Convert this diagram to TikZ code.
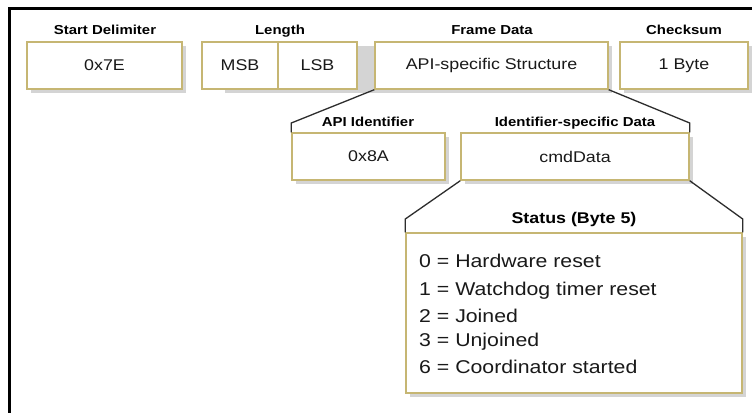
\documentclass[tikz,border=0pt]{standalone}
\usepackage{fontspec}
\setmainfont[FakeStretch=1.15]{Liberation Sans}
\definecolor{boxline}{RGB}{198,182,115}
\definecolor{shadowgray}{RGB}{212,212,212}
\definecolor{linkline}{RGB}{45,45,45}
\begin{document}
\begin{tikzpicture}[x=1pt,y=-1pt,
  fieldbox/.style={draw=boxline,line width=1.4pt,fill=white,
    minimum height=47pt,inner sep=0pt,font=\fontsize{15.5}{18}\selectfont,text=black!90},
  boxshadow/.style={fill=shadowgray},
  fieldhead/.style={anchor=base,inner sep=0pt,font=\bfseries\fontsize{13}{15}\selectfont},
  statusline/.style={anchor=base west,inner sep=0pt,font=\fontsize{18.5}{22}\selectfont,text=black!90},
  link/.style={draw=linkline,line width=1.3pt}]
\useasboundingbox (0,0) rectangle (752,413);
\fill[white] (0,0) rectangle (752,413);
% outer frame (clipped at right and bottom)
\coordinate (ftl) at (9.5,8.5);
\coordinate (ftr) at (752,8.5);
\coordinate (fbl) at (9.5,413);
\draw[line width=2.4pt] (ftr) -- (ftl) -- (fbl);

% shadows
\foreach \x/\y/\w/\h in {104.5/65.5/155/47, 298.75/65.5/155.5/47, 491.5/65.5/233/47, 684/65.5/128/47,
                          368.5/156.5/153/47, 575/156.5/228/47, 574/313/336/160}
  \fill[boxshadow] (\x-\w/2+3.5,\y-\h/2+3.5) rectangle (\x+\w/2+3.5,\y+\h/2+3.5);

% row 1
\node[fieldbox,minimum width=155pt] (sd) at (104.5,65.5) {0x7E};
\node[fieldbox,minimum width=76pt] (msb) at (240,65.5) {MSB};
\node[fieldbox,minimum width=79pt] (lsb) at (317.5,65.5) {LSB};
\node[fieldbox,minimum width=233pt] (fd) at (491.5,65.5) {API-specific Structure};
\node[fieldbox,minimum width=128pt] (cs) at (684,65.5) {1 Byte};
\node[fieldhead] (hsd) at (105,34) {Start Delimiter};
\node[fieldhead] (hlen) at (280,34) {Length};
\node[fieldhead] (hfd) at (492,34) {Frame Data};
\node[fieldhead] (hcs) at (684,34) {Checksum};

% row 2
\node[fieldbox,minimum width=153pt] (api) at (368.5,156.5) {0x8A};
\node[fieldbox,minimum width=228pt] (isd) at (575,156.5) {cmdData};
\node[fieldhead] (hapi) at (368,126) {API Identifier};
\node[fieldhead] (hisd) at (575,126) {Identifier-specific Data};

% status box
\node[fieldbox,minimum width=336pt,minimum height=160pt] (st) at (574,313) {};
\node[fieldhead,font=\bfseries\fontsize{15.5}{18}\selectfont] (hst) at (574,223) {Status (Byte 5)};
\node[statusline] (s0) at (419,267) {0 = Hardware reset};
\node[statusline] (s1) at (419,295) {1 = Watchdog timer reset};
\node[statusline] (s2) at (419,322) {2 = Joined};
\node[statusline] (s3) at (419,346) {3 = Unjoined};
\node[statusline] (s6) at (419,373) {6 = Coordinator started};

% expansion connectors
\coordinate (k1) at (api.north west |- 0,123);
\coordinate (k2) at (isd.north east |- 0,123);
\coordinate (k3) at (st.north west |- 0,219);
\coordinate (k4) at (st.north east |- 0,219);
\draw[link] (fd.south west) -- (k1) -- (api.north west);
\draw[link] (fd.south east) -- (k2) -- (isd.north east);
\draw[link] (isd.south west) -- (k3) -- (st.north west);
\draw[link] (isd.south east) -- (k4) -- (st.north east);
\end{tikzpicture}
\end{document}
